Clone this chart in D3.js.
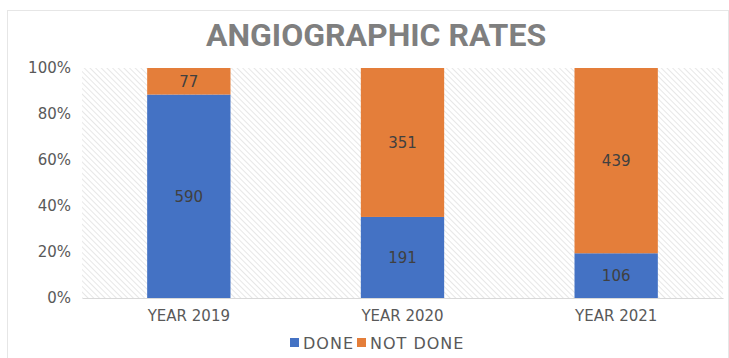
<!DOCTYPE html>
<html>
<head>
<meta charset="utf-8">
<script src="https://cdn.jsdelivr.net/npm/d3@7"></script>
<style>
    body { margin: 0; background: #fff; }
    svg { display: block; }
</style>
</head>
<body>
<svg width="729" height="358"></svg>
<script>
// Chart data
const years = ['YEAR 2019', 'YEAR 2020', 'YEAR 2021'];
const done = [590, 191, 106];
const notDone = [77, 351, 439];
const seriesNames = ['DONE', 'NOT DONE'];
const yTicks = [0, 0.2, 0.4, 0.6, 0.8, 1];

const svg = d3.select('svg');
const width = 729;
const height = 358;
const margin = { top: 68, right: 6, bottom: 60, left: 82 };
const labelFont = 'DejaVu Sans, Verdana, sans-serif';

// Card border
svg.append('rect')
    .attr('x', 7.5).attr('y', 10.5)
    .attr('width', width - 8).attr('height', height - 6)
    .attr('fill', '#fff')
    .attr('stroke', '#e6e6e6');

// Hatch pattern for plot background
const pattern = svg.append('defs')
    .append('pattern')
    .attr('id', 'hatch')
    .attr('patternUnits', 'userSpaceOnUse')
    .attr('width', 4).attr('height', 4)
    .attr('patternTransform', 'rotate(45)');
pattern.append('rect').attr('width', 4).attr('height', 4).attr('fill', '#fff');
pattern.append('line')
    .attr('x1', 0).attr('y1', 0).attr('x2', 4).attr('y2', 0)
    .attr('stroke', '#d4d4d4').attr('stroke-width', 1.1);

const x = d3.scaleBand()
    .domain(years)
    .range([margin.left, width - margin.right])
    .paddingInner(0.61)
    .paddingOuter(0.305);

const y = d3.scaleLinear()
    .domain([0, 1])
    .range([height - margin.bottom, margin.top]);

// Plot area
svg.append('rect')
    .attr('x', margin.left).attr('y', margin.top)
    .attr('width', width - margin.right - margin.left)
    .attr('height', height - margin.bottom - margin.top)
    .attr('fill', 'url(#hatch)');

// Stack as percentages
const rows = years.map((yr, i) => {
    const total = done[i] + notDone[i];
    return { year: yr, DONE: done[i] / total, 'NOT DONE': notDone[i] / total, raw: [done[i], notDone[i]] };
});
const stacked = d3.stack().keys(seriesNames)(rows);
const colors = d3.scaleOrdinal().domain(seriesNames).range(['#4472C4', '#E47E3A']);

const groups = svg.append('g')
    .selectAll('g')
    .data(stacked)
    .join('g')
    .attr('fill', (d) => colors(d.key));

groups.selectAll('rect')
    .data((d) => d)
    .join('rect')
    .attr('x', (d) => x(d.data.year))
    .attr('width', x.bandwidth())
    .attr('y', (d) => y(d[1]))
    .attr('height', (d) => y(d[0]) - y(d[1]));

// Data labels
stacked.forEach((s, si) => {
    svg.append('g')
        .selectAll('text')
        .data(s)
        .join('text')
        .attr('x', (d) => x(d.data.year) + x.bandwidth() / 2)
        .attr('y', (d) => (y(d[0]) + y(d[1])) / 2)
        .attr('dy', '0.35em')
        .attr('text-anchor', 'middle')
        .attr('font-family', labelFont)
        .attr('font-size', 15)
        .attr('fill', '#404040')
        .text((d) => d.data.raw[si]);
});

// Axes
const yAxis = svg.append('g')
    .attr('transform', `translate(${margin.left},0)`)
    .call(d3.axisLeft(y).tickValues(yTicks).tickFormat(d3.format('.0%')).tickSize(0).tickPadding(11));
yAxis.select('.domain').remove();
yAxis.selectAll('text')
    .attr('font-family', labelFont)
    .attr('font-size', 15)
    .attr('fill', '#595959');

const xAxis = svg.append('g')
    .attr('transform', `translate(0,${height - margin.bottom})`)
    .call(d3.axisBottom(x).tickSize(0).tickPadding(12));
xAxis.select('.domain').attr('stroke', '#d9d9d9');
xAxis.selectAll('text')
    .attr('font-family', labelFont)
    .attr('font-size', 15)
    .attr('fill', '#595959');

// Title
svg.append('text')
    .attr('x', 376)
    .attr('y', 46)
    .attr('text-anchor', 'middle')
    .attr('font-family', 'Roboto, sans-serif')
    .attr('font-weight', 'bold')
    .attr('font-size', 32)
    .attr('fill', '#7f7f7f')
    .text('ANGIOGRAPHIC RATES');

// Legend
const legend = svg.append('g').attr('transform', 'translate(290,343)');
const legendOffsets = [0, 67];
seriesNames.forEach((name, i) => {
    const g = legend.append('g').attr('transform', `translate(${legendOffsets[i]},0)`);
    g.append('rect')
        .attr('x', 0).attr('y', -5)
        .attr('width', 9).attr('height', 9)
        .attr('fill', colors(name));
    g.append('text')
        .attr('x', 13)
        .attr('y', 0)
        .attr('dy', '0.35em')
        .attr('font-family', labelFont)
        .attr('font-size', 16)
        .attr('letter-spacing', 1)
        .attr('fill', '#595959')
        .text(name);
});
</script>
</body>
</html>
